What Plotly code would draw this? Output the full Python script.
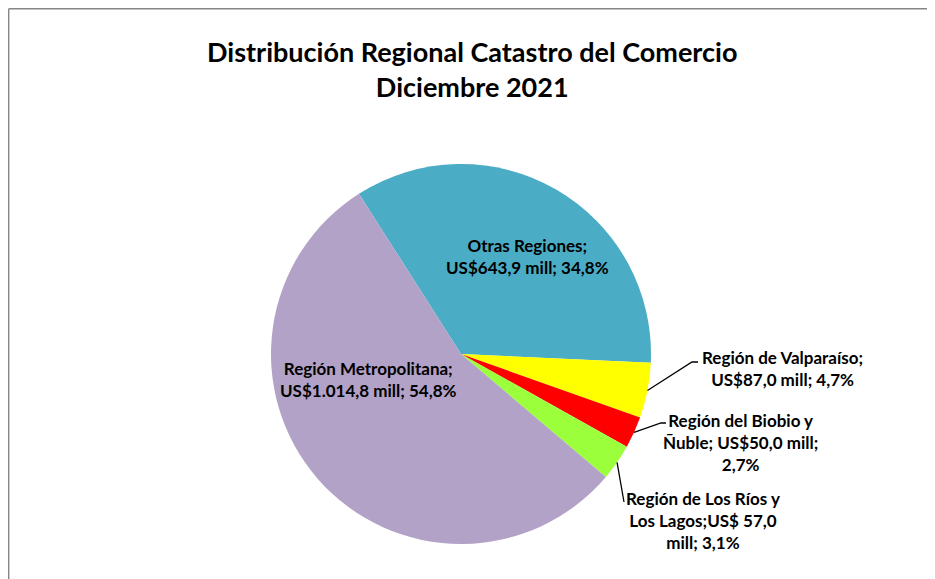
import math
import plotly.graph_objects as go

# ---- data ----
regions = ["Otras Regiones", "Región de Valparaíso", "Región del Biobio y Ñuble",
           "Región de Los Ríos y Los Lagos", "Región Metropolitana"]
values = [643.9, 87.0, 50.0, 57.0, 1014.8]
percents = [34.8, 4.7, 2.7, 3.1, 54.8]
label_texts = [
    "Otras Regiones;<br>US$643,9 mill; 34,8%",
    "Región de Valparaíso;<br>US$87,0 mill; 4,7%",
    "Región del Biobio y<br>Ñuble; US$50,0 mill;<br>2,7%",
    "Región de Los Ríos y<br>Los Lagos;US$ 57,0<br>mill; 3,1%",
    "Región Metropolitana;<br>US$1.014,8 mill; 54,8%",
]
colors = ["#4BACC6", "#FFFF00", "#FF0000", "#9BFF3C", "#B2A2C7"]

W, H = 935, 579
OFF = 8  # page offset of the figure on screen
CX, CY, R = 461, 354, 190  # screen pixels
START = -32.5  # degrees clockwise from 12 o'clock


def px(x):
    return (x - OFF) / W


def py(y):
    return 1 - (y - OFF) / H


fig = go.Figure(go.Pie(
    labels=regions, values=values, sort=False, direction="clockwise",
    rotation=START, marker=dict(colors=colors, line=dict(width=0)),
    textinfo="none", hoverinfo="label+value+percent", showlegend=False,
    domain=dict(x=[px(CX - R), px(CX + R)], y=[py(CY + R), py(CY - R)]),
))

FONT = "Lato, 'Open Sans', sans-serif"

# title
fig.add_annotation(x=px(472), y=py(69), xref="paper", yref="paper",
                   text="<b>Distribución Regional Catastro del Comercio<br>Diciembre 2021</b>",
                   showarrow=False, font=dict(family=FONT, size=27, color="black"),
                   align="center", xanchor="center", yanchor="middle")

# label positions (centre of text block, screen pixels) and leader elbows
label_pos = [(527, 256), (782, 368), (740, 442), (703, 520), (368, 379)]
elbows = [None, [(692, 362), (698, 362)], [(661, 423), (666, 423)], [(624, 502)], None]

total = sum(values)
cum = 0.0
for i, (txt, (lx, ly)) in enumerate(zip(label_texts, label_pos)):
    frac = values[i] / total
    mid = math.radians(START + 360 * (cum + frac / 2))
    cum += frac
    fig.add_annotation(x=px(lx), y=py(ly), xref="paper", yref="paper", text=f"<b>{txt}</b>",
                       showarrow=False, font=dict(family=FONT, size=17, color="black"),
                       align="center", xanchor="center", yanchor="middle")
    if elbows[i]:
        sx = CX + R * math.sin(mid)
        sy = CY - R * math.cos(mid)
        pts = [(sx, sy)] + elbows[i]
        path = "M " + " L ".join(f"{px(a)},{py(b)}" for a, b in pts)
        fig.add_shape(type="path", path=path, xref="paper", yref="paper",
                      line=dict(color="black", width=1.3))

# chart border: left and top edges
border = dict(color="#868686", width=1.4)
fig.add_shape(type="line", xref="paper", yref="paper", x0=px(8.7), x1=px(8.7), y0=-0.05, y1=py(8.7), line=border)
fig.add_shape(type="line", xref="paper", yref="paper", x0=px(8.7), x1=1.05, y0=py(8.7), y1=py(8.7), line=border)

fig.update_layout(width=W, height=H, margin=dict(l=0, r=0, t=0, b=0),
                  paper_bgcolor="white", plot_bgcolor="white")
fig.write_html("out.html")
